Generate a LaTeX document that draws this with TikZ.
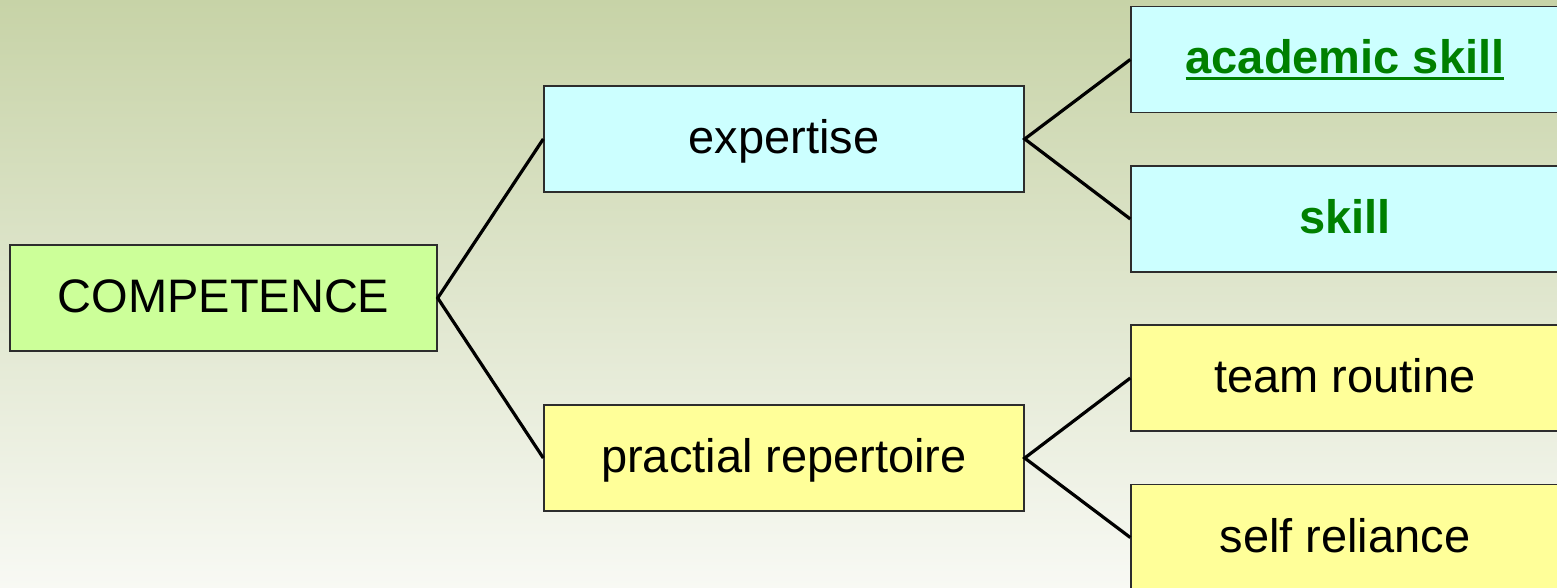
\documentclass[tikz,border=0pt]{standalone}
\usepackage{fontspec}
\setmainfont{Liberation Sans}
\definecolor{bgtop}{RGB}{199,211,167}
\definecolor{bgbot}{RGB}{248,249,244}
\definecolor{limefill}{RGB}{204,255,153}
\definecolor{cyanfill}{RGB}{204,255,255}
\definecolor{yellowfill}{RGB}{255,255,153}
\definecolor{boxline}{RGB}{45,45,45}
\definecolor{skillgreen}{RGB}{0,128,0}
% thick underline sitting a little below the baseline
\newcommand\thickul[1]{\setbox0\hbox{#1}\rlap{\vrule height -3pt depth 6.5pt width \wd0}\box0}
\tikzset{
  box/.style={draw=boxline, line width=1.4pt, rectangle, inner sep=0pt,
    minimum height=106pt, text height=36pt, text depth=7pt,
    font=\fontsize{47}{56}\selectfont},
  rootbox/.style={box, fill=limefill, minimum width=427pt},
  midbox/.style={box, minimum width=480pt},
  leafbox/.style={box, minimum width=428pt},
  link/.style={line width=3.2pt, line join=miter},
  greenlabel/.style={text=skillgreen, font=\fontsize{47}{56}\selectfont\bfseries}
}
\begin{document}
\begin{tikzpicture}[x=1pt, y=-1pt]
  \useasboundingbox (0,0) rectangle (1557,588);
  \clip (0,0) rectangle (1557,588);
  \shade[top color=bgtop, bottom color=bgbot] (0,0) rectangle (1557,588);

  \node[rootbox] (comp) at (223.5,298) {COMPETENCE};
  \node[midbox, fill=cyanfill] (expert) at (784,139) {expertise};
  \node[midbox, fill=yellowfill] (pract) at (784,458) {practial repertoire};
  \node[leafbox, fill=cyanfill, greenlabel] (acad) at (1345,59.5) {\thickul{academic skill}};
  \node[leafbox, fill=cyanfill, greenlabel] (skill) at (1345,219) {skill};
  \node[leafbox, fill=yellowfill] (team) at (1345,378) {team routine};
  \node[leafbox, fill=yellowfill] (self) at (1345,537.5) {self reliance};

  \draw[link] (expert.west) -- (comp.east) -- (pract.west);
  \draw[link] (acad.west) -- (expert.east) -- (skill.west);
  \draw[link] (team.west) -- (pract.east) -- (self.west);
\end{tikzpicture}
\end{document}
